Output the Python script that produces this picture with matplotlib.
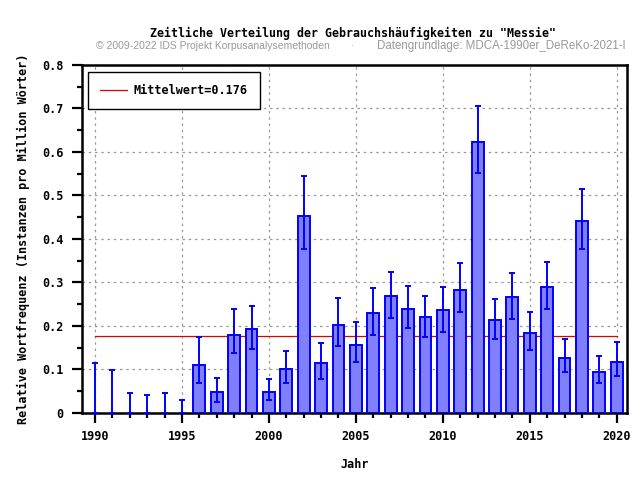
import matplotlib
matplotlib.use("Agg")
import matplotlib.pyplot as plt
from matplotlib.ticker import MultipleLocator
import numpy as np

years = list(range(1990, 2021))
values = [0, 0, 0, 0, 0, 0, 0.110, 0.048, 0.180, 0.193, 0.048,
          0.101, 0.452, 0.114, 0.203, 0.157, 0.229, 0.268, 0.240, 0.220, 0.236,
          0.282, 0.623, 0.213, 0.266, 0.185, 0.289, 0.127, 0.441, 0.095, 0.118]
err_low = [0, 0, 0, 0, 0, 0, 0.070, 0.026, 0.139, 0.148, 0.031,
           0.070, 0.376, 0.079, 0.154, 0.118, 0.180, 0.219, 0.196, 0.175, 0.187,
           0.233, 0.551, 0.170, 0.217, 0.145, 0.240, 0.094, 0.378, 0.069, 0.086]
err_high = [0.114, 0.098, 0.047, 0.042, 0.047, 0.031, 0.174, 0.081, 0.238, 0.245, 0.079,
            0.1435, 0.544, 0.161, 0.265, 0.210, 0.288, 0.325, 0.293, 0.270, 0.290,
            0.344, 0.706, 0.263, 0.321, 0.233, 0.346, 0.169, 0.515, 0.132, 0.164]
mean_value = 0.176

title = 'Zeitliche Verteilung der Gebrauchsh\u00e4ufigkeiten zu "Messie"'
credit_left = "\u00a9 2009-2022 IDS Projekt Korpusanalysemethoden"
credit_right = "Datengrundlage: MDCA-1990er_DeReKo-2021-I"
xlabel = "Jahr"
ylabel = "Relative Wortfrequenz (Instanzen pro Million W\u00f6rter)"
legend_label = "Mittelwert=0.176"

mono = ["DejaVu Sans Mono"]

fig = plt.figure(figsize=(6.4, 4.8), dpi=100)
ax = fig.add_axes([0.128, 0.1396, 0.852, 0.725])

v = np.array(values)
lo = v - np.array(err_low)
hi = np.array(err_high) - v
edge_w = [1.4 if val > 0 else 0 for val in values]

ax.bar(years, values, width=0.68, color="#8080FF", edgecolor="#0000FF", linewidth=edge_w, zorder=3)
ax.errorbar(years, values, yerr=[lo, hi], fmt="none", ecolor="#0000FF",
            elinewidth=1.4, capsize=2.3, capthick=1.4, zorder=4)
ax.plot([years[0], years[-1]], [mean_value, mean_value], color="#e00000", linewidth=0.9,
        label=legend_label, zorder=2)

ax.set_xlim(1989.25, 2020.6)
ax.set_ylim(0, 0.8)
ax.xaxis.set_major_locator(MultipleLocator(5))
ax.xaxis.set_minor_locator(MultipleLocator(1))
ax.yaxis.set_major_locator(MultipleLocator(0.1))
ax.yaxis.set_minor_locator(MultipleLocator(0.05))
ax.set_yticks(np.arange(0, 0.81, 0.1))
ax.set_yticklabels(["0", "0.1", "0.2", "0.3", "0.4", "0.5", "0.6", "0.7", "0.8"])

ax.grid(True, which="major", color="#999999", linestyle=(0, (2, 3)), linewidth=0.9, zorder=0)
for s in ax.spines.values():
    s.set_linewidth(1.8)
ax.tick_params(axis="x", which="major", direction="out", length=7, width=1.6, labelsize=8.5, pad=5)
ax.tick_params(axis="y", which="major", direction="out", length=7, width=1.6, labelsize=8.5, pad=6)
ax.tick_params(which="minor", direction="out", length=3.5, width=1.6)
for lab in ax.get_xticklabels() + ax.get_yticklabels():
    lab.set_family(mono)
    lab.set_fontweight("bold")

ax.set_xlabel(xlabel, family=mono, fontweight="bold", fontsize=8.5, labelpad=11)
ax.set_ylabel(ylabel, family=mono, fontweight="bold", fontsize=8.5, labelpad=9)

leg = ax.legend(loc="upper left", frameon=True, fancybox=False, framealpha=1,
                edgecolor="black", prop={"family": mono, "weight": "bold", "size": 8.5},
                borderpad=1.05, handlelength=2.3, handletextpad=0.5,
                bbox_to_anchor=(0.0, 0.998))
leg.get_frame().set_linewidth(1.0)

fig.text(0.552, 0.931, title, family=mono, fontweight="bold", fontsize=8.4, ha="center", va="center")
fig.text(0.333, 0.904, credit_left, color="#999999", fontsize=7.5, ha="center", va="center", family="Liberation Sans")
fig.text(0.551, 0.904, "\u00b7", color="#999999", fontsize=7.5, ha="center", va="center", family="Liberation Sans")
fig.text(0.783, 0.904, credit_right, color="#999999", fontsize=8.3, ha="center", va="center", family="Liberation Sans")

fig.savefig("out.png", dpi=100)
